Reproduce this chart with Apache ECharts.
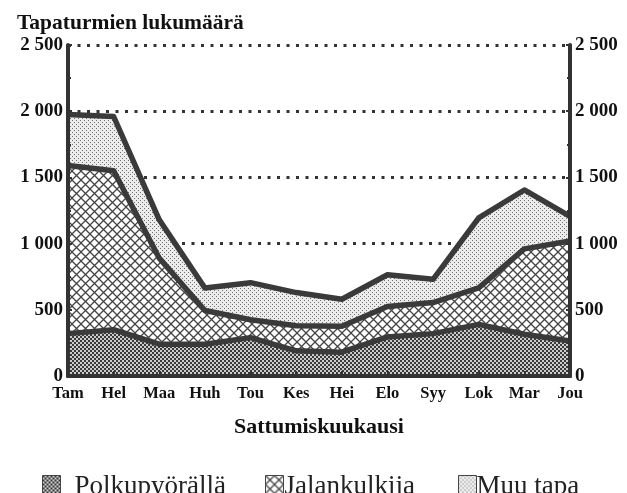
<!DOCTYPE html>
<html>
<head>
<meta charset="utf-8">
<script src="https://cdn.jsdelivr.net/npm/echarts@6/dist/echarts.min.js"></script>
<style>
  html, body { margin: 0; padding: 0; background: #fff; }
  #chart { width: 627px; height: 493px; }
</style>
</head>
<body>
<div id="chart"></div>
<script>
// Accident counts by month of occurrence, stacked by mode
const months = ['Tam', 'Hel', 'Maa', 'Huh', 'Tou', 'Kes', 'Hei', 'Elo', 'Syy', 'Lok', 'Mar', 'Jou'];
const seriesNames = ['Polkupyörällä', 'Jalankulkija', 'Muu tapa'];
const cyclists = [320, 350, 240, 240, 290, 190, 180, 295, 320, 390, 315, 265];
const pedestrians = [1270, 1200, 650, 255, 135, 190, 195, 230, 235, 275, 645, 755];
const otherWay = [385, 410, 290, 170, 280, 250, 205, 240, 175, 530, 445, 185];
const yTicks = [0, 500, 1000, 1500, 2000, 2500];

const ink = '#333333';
const serif = '"Liberation Serif", "DejaVu Serif", serif';

// Fill textures
function tile(size, draw) {
  const c = document.createElement('canvas');
  c.width = size; c.height = size;
  const g = c.getContext('2d');
  draw(g, size);
  return { image: c, repeat: 'repeat' };
}
const denseDots = tile(4, (g) => {
  g.fillStyle = '#cccccc'; g.fillRect(0, 0, 4, 4);
  g.fillStyle = '#3a3a3a'; g.fillRect(0, 0, 2, 2); g.fillRect(2, 2, 2, 2);
});
const crossHatch = tile(9, (g, s) => {
  g.fillStyle = '#ffffff'; g.fillRect(0, 0, s, s);
  g.strokeStyle = '#444444'; g.lineWidth = 1.3;
  g.beginPath();
  g.moveTo(-1, -1); g.lineTo(s + 1, s + 1);
  g.moveTo(s + 1, -1); g.lineTo(-1, s + 1);
  g.stroke();
});
const lightDots = tile(4, (g) => {
  g.fillStyle = '#ececec'; g.fillRect(0, 0, 4, 4);
  g.fillStyle = '#707070'; g.fillRect(0, 0, 1, 1); g.fillRect(2, 2, 1, 1);
});
const fills = [denseDots, crossHatch, lightDots];
const values = [cyclists, pedestrians, otherWay];

function fmt(v) {
  return v >= 1000 ? Math.floor(v / 1000) + ' ' + String(v % 1000).padStart(3, '0') : String(v);
}

const chart = echarts.init(document.getElementById('chart'), null, { renderer: 'canvas' });

const yRange = { type: 'value', min: yTicks[0], max: yTicks[yTicks.length - 1], interval: 500 };

function frameAxis(position) {
  return Object.assign({}, yRange, {
    position: position,
    z: 5,
    axisLine: { show: true, lineStyle: { color: ink, width: 4 } },
    axisTick: { show: true, inside: true, length: 4, lineStyle: { color: ink, width: 2 } },
    minorTick: { show: true, splitNumber: 2, length: 3, lineStyle: { color: ink, width: 2 } },
    splitLine: { show: false },
    axisLabel: {
      color: '#111', fontFamily: serif, fontWeight: 'bold', fontSize: 19, margin: 5,
      verticalAlign: 'middle', padding: [6, 0, 0, 0],
      formatter: fmt
    }
  });
}

function legendFor(i, left, pad) {
  return {
    left: left, top: 468,
    icon: 'rect', itemWidth: 18, itemHeight: 22,
    selectedMode: false,
    data: [{ name: seriesNames[i], itemStyle: { color: fills[i], borderColor: '#444', borderWidth: 1 } }],
    textStyle: { fontFamily: serif, fontSize: 27, color: '#222', padding: [4, 0, 0, pad] }
  };
}

chart.setOption({
  animation: false,
  backgroundColor: '#ffffff',
  title: {
    text: 'Tapaturmien lukumäärä',
    left: 12, top: 7,
    textStyle: { fontFamily: serif, fontWeight: 'bold', fontSize: 21.5, color: '#111' }
  },
  grid: { left: 68, right: 57, top: 45, bottom: 117 },
  legend: [legendFor(0, 37, 9), legendFor(1, 260, -4), legendFor(2, 453, -5)],
  xAxis: [{
    type: 'category',
    data: months,
    boundaryGap: false,
    z: 5,
    name: 'Sattumiskuukausi',
    nameLocation: 'middle',
    nameGap: 40,
    nameTextStyle: { fontFamily: serif, fontWeight: 'bold', fontSize: 22, color: '#111' },
    axisLine: { show: true, lineStyle: { color: ink, width: 4 } },
    axisTick: { show: true, inside: true, length: 5, lineStyle: { color: ink, width: 2 } },
    axisLabel: { color: '#111', fontFamily: serif, fontWeight: 'bold', fontSize: 16.5, margin: 9, interval: 0 },
    splitLine: { show: false }
  }, {
    type: 'category',
    data: months,
    boundaryGap: false,
    position: 'top',
    z: 5,
    axisLine: { show: true, lineStyle: { color: ink, width: 4 } },
    axisTick: { show: false },
    axisLabel: { show: false }
  }],
  yAxis: [
    frameAxis('left'),
    frameAxis('right'),
    // dotted guide lines, kept beneath the filled areas
    Object.assign({}, yRange, {
      position: 'left',
      z: 0,
      axisLine: { show: false },
      axisTick: { show: false },
      axisLabel: { show: false },
      splitLine: { show: true, lineStyle: { color: ink, width: 3, type: [3, 6.5] } }
    })
  ],
  series: values.map((arr, i) => ({
    name: seriesNames[i],
    type: 'line',
    stack: 'total',
    yAxisIndex: 0,
    data: arr,
    symbol: 'none',
    smooth: false,
    z: 4 - i,
    itemStyle: { color: fills[i] },
    lineStyle: { color: '#3a3a3a', width: 5.5, join: 'round' },
    areaStyle: { color: fills[i], opacity: 1 }
  }))
});
</script>
</body>
</html>
